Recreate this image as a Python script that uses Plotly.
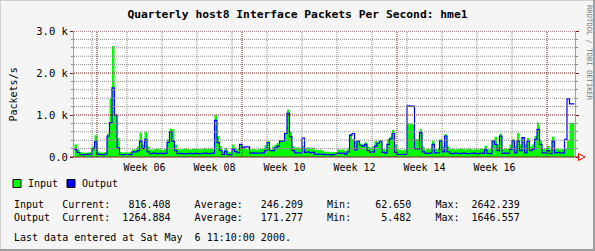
import numpy as np
import pandas as pd
import plotly.graph_objects as go

# ---------------- data ----------------
title_text = "Quarterly host8 Interface Packets Per Second: hme1"
y_title = "Packets/s"
series_names = ["Input", "Output"]
series_colors = ["#00FF00", "#0000FF"]

data_start = "2000-01-27 12:00"
data_step = "12h"
data_end = "2000-05-06 11:10"
view_start = "2000-01-27 09:36"
view_end = "2000-05-06 14:24"

input_pps = [
    305, 180, 120, 110, 100, 110, 120, 250, 520, 130,
    110, 110, 120, 560, 1380, 2642.239, 1000, 450, 120, 110,
    115, 110, 120, 180, 180, 250, 580, 300, 600, 250,
    180, 170, 190, 200, 180, 170, 190, 420, 680, 660,
    300, 190, 180, 190, 200, 190, 180, 190, 200, 190,
    180, 200, 210, 190, 200, 190, 1000, 500, 260, 130,
    220, 130, 120, 300, 220, 180, 300, 220, 200, 180,
    180, 190, 170, 180, 190, 200, 280, 380, 180, 250,
    300, 340, 400, 400, 580, 1130, 600, 260, 220, 230,
    210, 260, 220, 230, 210, 220, 170, 160, 170, 150,
    120, 130, 110, 120, 120, 180, 170, 180, 150, 200,
    550, 420, 380, 350, 320, 300, 350, 250, 220, 250,
    380, 340, 350, 200, 180, 420, 480, 640, 300, 170,
    170, 160, 180, 780, 790, 780, 420, 430, 660, 250,
    180, 190, 180, 380, 190, 190, 420, 250, 540, 250,
    190, 200, 180, 190, 200, 190, 180, 200, 190, 180,
    190, 180, 200, 190, 270, 180, 190, 400, 480, 300,
    560, 190, 200, 190, 300, 420, 250, 570, 300, 450,
    300, 450, 250, 300, 500, 820, 400, 200, 190, 260,
    180, 490, 190, 200, 180, 190, 200, 400, 816.408, 816.408,
]
output_pps = [
    177, 110, 60, 50, 60, 70, 55, 200, 360, 70,
    60, 55, 65, 500, 820, 1646.557, 1000, 220, 60, 55,
    60, 65, 55, 120, 120, 150, 380, 200, 420, 120,
    80, 90, 85, 80, 90, 80, 85, 350, 600, 380,
    150, 80, 85, 80, 75, 80, 85, 80, 85, 80,
    80, 85, 90, 80, 85, 90, 870, 340, 150, 60,
    140, 60, 50, 180, 130, 100, 300, 230, 240, 240,
    90, 100, 85, 90, 95, 100, 150, 340, 150, 150,
    220, 260, 380, 380, 560, 1040, 480, 150, 100, 100,
    100, 450, 110, 120, 100, 110, 70, 70, 65, 70,
    55, 60, 50, 55, 60, 90, 85, 95, 70, 120,
    520, 560, 170, 380, 280, 260, 300, 150, 110, 120,
    260, 330, 380, 110, 90, 300, 430, 560, 110, 60,
    60, 65, 60, 1220, 1210, 1210, 200, 190, 580, 120,
    90, 85, 90, 300, 100, 95, 380, 120, 500, 120,
    85, 80, 90, 85, 80, 90, 85, 80, 85, 90,
    85, 80, 90, 85, 170, 85, 80, 380, 300, 150,
    500, 85, 90, 85, 180, 390, 100, 380, 150, 460,
    100, 380, 150, 180, 420, 660, 300, 100, 95, 150,
    80, 380, 100, 110, 90, 100, 420, 1385, 1264.884, 1264.884,
]

week_labels = ["Week 06", "Week 08", "Week 10", "Week 12", "Week 14", "Week 16"]
week_label_mondays = ["2000-02-07", "2000-02-21", "2000-03-06",
                      "2000-03-20", "2000-04-03", "2000-04-17"]
month_starts = ["2000-02-01", "2000-03-01", "2000-04-01", "2000-05-01"]

y_tick_vals = [0, 1000, 2000, 3000]
y_tick_text = ["0.0", "1.0 k", "2.0 k", "3.0 k"]
y_minor_step = 200
y_max = 3000

stat_current = [816.408, 1264.884]
stat_average = [246.209, 171.277]
stat_min = [62.650, 5.482]
stat_max = [2642.239, 1646.557]
last_update_text = "Last data entered at Sat May  6 11:10:00 2000."
credit_text = "RRDTOOL / TOBI OETIKER"

# ---------------- layout helpers ----------------
W, H = 595, 251
L, R, T, B = 74, 575, 31, 157
MONO = "DejaVu Sans Mono"
GRID_GRAY = "#8C8C8C"
GRID_RED = "#7A1E1E"
NB = "\u00a0"


def px_x(px):
    return (px - L) / (R - L)


def px_y(py):
    return (B - py) / (B - T)


times = pd.date_range(start=data_start, periods=len(input_pps), freq=data_step)
t_ext = list(times) + [pd.Timestamp(data_end)]
in_ext = list(input_pps) + [input_pps[-1]]
out_ext = list(output_pps) + [output_pps[-1]]

fig = go.Figure()
fig.add_trace(go.Scatter(
    x=t_ext, y=in_ext, name=series_names[0], mode="lines", line_shape="hv",
    line=dict(width=0, color=series_colors[0]), fill="tozeroy",
    fillcolor=series_colors[0], hoverinfo="skip", showlegend=False))
fig.add_trace(go.Scatter(
    x=t_ext, y=out_ext, name=series_names[1], mode="lines", line_shape="hv",
    line=dict(width=1.2, color=series_colors[1]), hoverinfo="skip",
    showlegend=False))

shapes = []
# horizontal grid (drawn above data like rrdtool)
for v in range(y_minor_step, y_max + 1, y_minor_step):
    col = GRID_RED if v % 1000 == 0 else GRID_GRAY
    shapes.append(dict(type="line", xref="paper", yref="y", x0=0, x1=1,
                       y0=v, y1=v, layer="above",
                       line=dict(color=col, width=1, dash="1px,1px")))
# vertical weekly grid
mondays = pd.date_range(start="2000-01-24", end="2000-05-06", freq="W-MON")
month_ts = [pd.Timestamp(m) for m in month_starts]
for m in mondays:
    if m < pd.Timestamp(view_start) or m in month_ts:
        continue
    shapes.append(dict(type="line", xref="x", yref="paper", x0=m, x1=m,
                       y0=0, y1=1, layer="above",
                       line=dict(color=GRID_GRAY, width=1, dash="1px,1px")))
for m in month_ts:
    shapes.append(dict(type="line", xref="x", yref="paper", x0=m, x1=m,
                       y0=0, y1=1, layer="above",
                       line=dict(color=GRID_RED, width=1, dash="1px,1px")))
# bottom axis line with arrow
shapes.append(dict(type="line", xref="paper", yref="paper", x0=px_x(70), x1=px_x(578.5),
                   y0=0, y1=0, layer="above", line=dict(color=GRID_RED, width=1)))
shapes.append(dict(type="path", xref="paper", yref="paper", xsizemode="pixel",
                   ysizemode="pixel", xanchor=px_x(575), yanchor=0,
                   path="M 3.5,-3.5 L 3.5,3.5 L 10,0 Z", layer="above",
                   line=dict(color="#FF0000", width=1), fillcolor="rgba(0,0,0,0)"))
# legend boxes
for i, x0 in enumerate([13, 67]):
    shapes.append(dict(type="rect", xref="paper", yref="paper",
                       x0=px_x(x0), x1=px_x(x0 + 8), y0=px_y(187.5), y1=px_y(179.5),
                       fillcolor=series_colors[i], line=dict(color="#000000", width=1)))
# 3D border
shapes.append(dict(type="rect", xref="paper", yref="paper", x0=px_x(0), x1=px_x(1),
                   y0=px_y(H), y1=px_y(0), fillcolor="#CFCFCF", line=dict(width=0)))
shapes.append(dict(type="rect", xref="paper", yref="paper", x0=px_x(0), x1=px_x(W),
                   y0=px_y(1), y1=px_y(0), fillcolor="#CFCFCF", line=dict(width=0)))
shapes.append(dict(type="rect", xref="paper", yref="paper", x0=px_x(W - 2), x1=px_x(W),
                   y0=px_y(H), y1=px_y(0), fillcolor="#9E9E9E", line=dict(width=0)))
shapes.append(dict(type="rect", xref="paper", yref="paper", x0=px_x(0), x1=px_x(W),
                   y0=px_y(H), y1=px_y(H - 2), fillcolor="#9E9E9E", line=dict(width=0)))

annotations = []


def text_at(txt, x, y, size=10, xanchor="left", color="#000000", angle=0, weight="normal"):
    annotations.append(dict(text=txt.replace(" ", NB), xref="paper", yref="paper",
                            x=px_x(x), y=px_y(y), xanchor=xanchor, yanchor="middle",
                            showarrow=False, textangle=angle, borderpad=0,
                            font=dict(family=MONO, size=size, color=color, weight=weight)))


text_at(y_title, 12.5, 95, size=10, xanchor="center", angle=-90)
text_at(series_names[0], 27, 183.5)
text_at(series_names[1], 80.5, 183.5)
for i, nm in enumerate(series_names):
    row = (f"{nm:<8}Current:{stat_current[i]:10.3f}    Average:{stat_average[i]:10.3f}"
           f"    Min:{stat_min[i]:10.3f}    Max:{stat_max[i]:10.3f}")
    text_at(row, 12.5, 204.3 + 13 * i)
text_at(last_update_text, 12.5, 237.5)
text_at(credit_text, 589.5, 52.5, size=7.2, xanchor="center", color="#7C7C7C", angle=90)

label_pos = [pd.Timestamp(d) + pd.Timedelta(hours=84) for d in week_label_mondays]

fig.update_layout(
    width=W, height=H,
    margin=dict(l=L, r=W - R, t=T, b=H - B, pad=0),
    paper_bgcolor="#F5F5F5", plot_bgcolor="#FFFFFF",
    title=dict(text=title_text, x=0.5, xanchor="center", y=1 - 14.5 / H,
               yanchor="middle", font=dict(family=MONO, size=11.3, color="#000000",
                                           weight="bold")),
    xaxis=dict(type="date", range=[view_start, view_end], showgrid=False,
               zeroline=False, showline=False, ticks="", tickmode="array",
               tickvals=label_pos, ticktext=week_labels,
               tickfont=dict(family=MONO, size=10, color="#000000"),
               ticklabelstandoff=3),
    yaxis=dict(range=[0, y_max], showgrid=False, zeroline=False, showline=True,
               linecolor="#A0A0A0", linewidth=1, mirror="ticks",
               ticks="outside", ticklen=3, tickcolor=GRID_RED, tickwidth=1,
               tickmode="array", tickvals=y_tick_vals, ticktext=y_tick_text,
               tickfont=dict(family=MONO, size=10.5, color="#000000"),
               minor=dict(dtick=y_minor_step, ticks="outside", ticklen=2,
                          tickcolor=GRID_GRAY, showgrid=False)),
    shapes=shapes, annotations=annotations, showlegend=False,
)

fig.write_html("out.html")
